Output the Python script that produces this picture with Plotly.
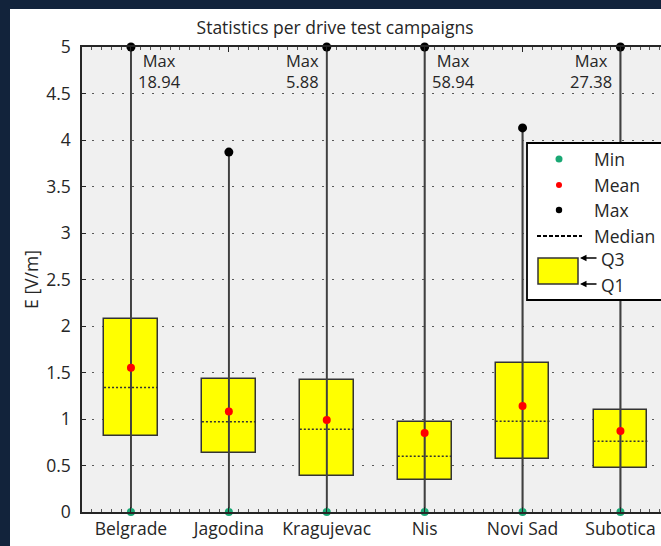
import plotly.graph_objects as go
import numpy as np

# ---------------- data ----------------
categories = ["Belgrade", "Jagodina", "Kragujevac", "Nis", "Novi Sad", "Subotica"]
q1_vals = [0.82, 0.63, 0.39, 0.34, 0.57, 0.47]
q3_vals = [2.08, 1.43, 1.42, 0.97, 1.60, 1.10]
median_vals = [1.34, 0.97, 0.89, 0.60, 0.975, 0.76]
mean_vals = [1.55, 1.08, 0.99, 0.85, 1.14, 0.87]
min_vals = [0.0, 0.0, 0.0, 0.0, 0.0, 0.0]
max_vals = [18.94, 3.87, 5.88, 58.94, 4.13, 27.38]
y_tickvals = [0, 0.5, 1, 1.5, 2, 2.5, 3, 3.5, 4, 4.5, 5]
y_ticktext = ["0", "0.5", "1", "1.5", "2", "2.5", "3", "3.5", "4", "4.5", "5"]
# side where the "Max" label of off-scale maxima is printed
max_label_side = {"Belgrade": "right", "Kragujevac": "left", "Nis": "right", "Subotica": "left"}

# ---------------- layout constants ----------------
W, H = 661, 546
L, T, B, R = 82, 47, 34, 0
PW, PH = W - L - R, H - T - B
SPACING = 97.9              # px per category
YMIN, YMAX = 0, 5
BOX_W = 0.55
FONT = "Open Sans"
FS = 17.5
TXT = "#262626"
NAVY = "#12233b"

def px(x):
    return (x - L) / PW

def py(y):
    return (H - B - y) / PH

def ydata(ypix):
    return YMIN + (H - B - ypix) / PH * (YMAX - YMIN)

xpos = np.arange(1, len(categories) + 1)
q1 = np.array(q1_vals)
q3 = np.array(q3_vals)
top_disp = np.minimum(np.array(max_vals), YMAX)

fig = go.Figure()

# whiskers (min -> max, clipped at the top of the axis)
wx, wy = [], []
for x, lo, hi in zip(xpos, min_vals, top_disp):
    wx += [x, x, None]
    wy += [lo, hi, None]
fig.add_trace(go.Scatter(x=wx, y=wy, mode="lines",
                         line=dict(color="#404040", width=1.8),
                         hoverinfo="skip", showlegend=False))

# boxes Q1..Q3
fig.add_trace(go.Bar(x=xpos, y=q3 - q1, base=q1, width=BOX_W,
                     marker=dict(color="#ffff00", line=dict(color="#333333", width=1.5)),
                     showlegend=False))

# whiskers drawn again over the boxes (line visible through box)
fig.add_trace(go.Scatter(x=wx, y=wy, mode="lines",
                         line=dict(color="#404040", width=1.5),
                         hoverinfo="skip", showlegend=False))

# medians (dotted)
mx, my = [], []
for x, m in zip(xpos, median_vals):
    mx += [x - BOX_W / 2, x + BOX_W / 2, None]
    my += [m, m, None]
fig.add_trace(go.Scatter(x=mx, y=my, mode="lines",
                         line=dict(color="#333333", width=1.5, dash="2px,2px"),
                         hoverinfo="skip", showlegend=False))

# mean
fig.add_trace(go.Scatter(x=xpos, y=mean_vals, mode="markers",
                         marker=dict(color="#ff0000", size=8),
                         showlegend=False))
# min
fig.add_trace(go.Scatter(x=xpos, y=min_vals, mode="markers", cliponaxis=False,
                         marker=dict(color="#1aa874", size=8),
                         showlegend=False))
# max
fig.add_trace(go.Scatter(x=xpos, y=top_disp, mode="markers", cliponaxis=False,
                         marker=dict(color="#000000", size=9),
                         showlegend=False))

annotations = []
# Max labels for values beyond the axis
for x, cat, mv in zip(xpos, categories, max_vals):
    if mv > YMAX and cat in max_label_side:
        side = max_label_side[cat]
        annotations.append(dict(
            x=x, y=ydata(70.5), xref="x", yref="y", text=f"Max<br>{mv:.2f}",
            showarrow=False, align="center", yanchor="middle",
            xanchor="left" if side == "right" else "right",
            xshift=5 if side == "right" else -6,
            font=dict(family=FONT, size=16.5, color=TXT)))

# ---------------- frame + legend (drawn by hand) ----------------
shapes = []
shapes.append(dict(type="rect", xref="paper", yref="paper", x0=px(0), x1=px(10), y0=py(H), y1=py(0),
                   fillcolor=NAVY, line=dict(width=0), layer="below"))
shapes.append(dict(type="rect", xref="paper", yref="paper", x0=px(0), x1=px(W), y0=py(9), y1=py(0),
                   fillcolor=NAVY, line=dict(width=0), layer="below"))

LG_X0, LG_Y0, LG_Y1 = 527, 143, 300
shapes.append(dict(type="rect", xref="paper", yref="paper", x0=px(LG_X0), x1=px(W + 20),
                   y0=py(LG_Y1), y1=py(LG_Y0), fillcolor="white",
                   line=dict(color="#000000", width=1.8), layer="above"))

def dot(cx, cy, r, color):
    return dict(type="circle", xref="paper", yref="paper", xsizemode="pixel", ysizemode="pixel",
                xanchor=px(cx), yanchor=py(cy), x0=-r, x1=r, y0=-r, y1=r,
                fillcolor=color, line=dict(width=0), layer="above")

ICON_X = 559
TEXT_X = 592
rows = [("Min", 159, "#1aa874", 3.5), ("Mean", 185, "#ff0000", 3), ("Max", 210, "#000000", 3.2)]
for label, yy, col, r in rows:
    shapes.append(dot(ICON_X, yy, r, col))
    annotations.append(dict(x=px(TEXT_X), y=py(yy), xref="paper", yref="paper", text=label,
                            showarrow=False, xanchor="left", yanchor="middle",
                            font=dict(family=FONT, size=FS, color=TXT)))
shapes.append(dict(type="line", xref="paper", yref="paper", x0=px(537), x1=px(582),
                   y0=py(236), y1=py(236), line=dict(color="#000000", width=1.8, dash="4px,2px"),
                   layer="above"))
annotations.append(dict(x=px(TEXT_X), y=py(236), xref="paper", yref="paper", text="Median",
                        showarrow=False, xanchor="left", yanchor="middle",
                        font=dict(family=FONT, size=FS, color=TXT)))
shapes.append(dict(type="rect", xref="paper", yref="paper", x0=px(538), x1=px(578),
                   y0=py(284), y1=py(258), fillcolor="#ffff00",
                   line=dict(color="#333333", width=1.5), layer="above"))
for label, yy in [("Q3", 258), ("Q1", 284)]:
    annotations.append(dict(x=px(580), y=py(yy), xref="paper", yref="paper", text="",
                            showarrow=True, ax=18, ay=0,
                            arrowhead=2, arrowsize=1, arrowwidth=1.3, arrowcolor="#000000"))
    annotations.append(dict(x=px(599), y=py(yy + 1), xref="paper", yref="paper", text=label,
                            showarrow=False, xanchor="left", yanchor="middle",
                            font=dict(family=FONT, size=FS, color=TXT)))

fig.update_layout(
    width=W, height=H,
    margin=dict(l=L, r=R, t=T, b=B, pad=0),
    paper_bgcolor="white",
    plot_bgcolor="#f0f0f0",
    font=dict(family=FONT, size=FS, color=TXT),
    title=dict(text="Statistics per drive test campaigns", x=px(375.5), xanchor="center",
               y=1 - 28 / H, yanchor="middle", font=dict(family=FONT, size=FS, color=TXT)),
    showlegend=False,
    bargap=0,
    shapes=shapes,
    annotations=annotations,
)
fig.update_xaxes(
    range=[0.5, 0.5 + PW / SPACING],
    tickvals=list(xpos), ticktext=categories,
    showgrid=False, zeroline=False,
    showline=True, linecolor="#262626", linewidth=1.5, mirror="allticks",
    ticks="inside", ticklen=5, tickcolor="#262626", tickwidth=1,
    minor=dict(ticks="inside", ticklen=3, dtick=0.1, tick0=0.5, tickcolor="#555555", showgrid=False),
    tickfont=dict(family=FONT, size=FS, color=TXT),
    fixedrange=True,
)
fig.update_yaxes(
    range=[YMIN, YMAX],
    tickvals=y_tickvals, ticktext=y_ticktext,
    showgrid=True, gridcolor="#5a5a5a", gridwidth=1, griddash="2px,8px",
    zeroline=False,
    showline=True, linecolor="#262626", linewidth=1.5, mirror=False,
    ticks="inside", ticklen=4, tickcolor="#262626",
    ticklabelstandoff=6,
    tickfont=dict(family=FONT, size=FS, color=TXT),
    title=dict(text="E [V/m]", standoff=3, font=dict(family=FONT, size=FS, color=TXT)),
    fixedrange=True,
)

fig.write_html("out.html",
               config={"displayModeBar": False},
               post_script="document.body.style.margin='0px';document.body.style.overflow='hidden';")
